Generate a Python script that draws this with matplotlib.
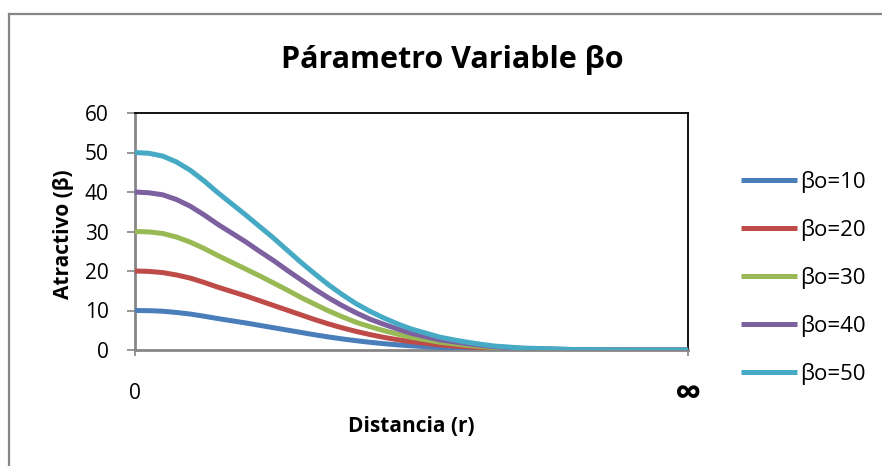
import numpy as np
import matplotlib
matplotlib.use("Agg")
import matplotlib.pyplot as plt
from matplotlib.lines import Line2D

plt.rcParams['font.family'] = ['Open Sans', 'DejaVu Sans']

# ---------------- DATOS ----------------
# distancia relativa: 0 = origen, 100 = infinito
distancia = [0, 2.5, 5, 7.5, 10, 12.5, 15, 17.5, 20, 22.5, 25, 27.5, 30, 32.5, 35, 37.5,
             40, 42.5, 45, 47.5, 50, 52.5, 55, 57.5, 60, 62.5, 65, 67.5, 70, 72.5, 75,
             77.5, 80, 85, 90, 95, 100]

beta_10 = [10, 9.96, 9.82, 9.5, 9.1, 8.55, 7.95, 7.4, 6.85, 6.25, 5.65, 5.05, 4.45, 3.85,
           3.3, 2.8, 2.35, 1.95, 1.6, 1.3, 1.05, 0.85, 0.65, 0.5, 0.4, 0.3, 0.2, 0.15,
           0.1, 0.08, 0.06, 0.04, 0.02, 0.01, 0, 0, 0]
beta_20 = [20, 19.9, 19.6, 19.0, 18.2, 17.1, 15.9, 14.8, 13.7, 12.5, 11.3, 10.1, 8.9, 7.7,
           6.6, 5.6, 4.7, 3.9, 3.2, 2.6, 2.1, 1.7, 1.3, 1.0, 0.8, 0.6, 0.4, 0.3,
           0.2, 0.16, 0.12, 0.08, 0.04, 0.02, 0, 0, 0]
beta_30 = [30, 29.9, 29.5, 28.6, 27.3, 25.7, 23.9, 22.2, 20.5, 18.8, 17.0, 15.2, 13.3, 11.6,
           9.9, 8.4, 7.0, 5.9, 4.9, 4.0, 3.2, 2.6, 2.0, 1.6, 1.2, 0.9, 0.6, 0.45,
           0.3, 0.24, 0.18, 0.12, 0.06, 0.03, 0, 0, 0]
beta_40 = [40, 39.8, 39.3, 38.1, 36.4, 34.2, 31.8, 29.6, 27.4, 25.0, 22.7, 20.2, 17.8, 15.4,
           13.2, 11.2, 9.4, 7.8, 6.5, 5.3, 4.2, 3.4, 2.6, 2.1, 1.6, 1.2, 0.8, 0.6,
           0.4, 0.3, 0.24, 0.16, 0.08, 0.04, 0, 0, 0]
beta_50 = [50, 49.8, 49.1, 47.6, 45.5, 42.8, 39.8, 37.0, 34.2, 31.3, 28.4, 25.3, 22.2, 19.3,
           16.5, 14.0, 11.7, 9.8, 8.1, 6.6, 5.3, 4.3, 3.3, 2.6, 2.0, 1.45, 1.0, 0.75,
           0.5, 0.4, 0.3, 0.2, 0.1, 0.05, 0, 0, 0]

series = [beta_10, beta_20, beta_30, beta_40, beta_50]
etiquetas = ['βo=10', 'βo=20', 'βo=30', 'βo=40', 'βo=50']
colores = ['#4A7EBB', '#BE4B48', '#98B954', '#7D60A0', '#46AAC5']

gris = '#868686'

# ---------------- FIGURA ----------------
fig = plt.figure(figsize=(8.82, 4.66), dpi=100)

# marco exterior del gráfico
fig.add_artist(Line2D([9 / 882, 1.0], [1 - 14 / 466] * 2, transform=fig.transFigure,
                      color=gris, linewidth=1.6))
fig.add_artist(Line2D([9 / 882] * 2, [0.0, 1 - 14 / 466], transform=fig.transFigure,
                      color=gris, linewidth=1.6))

ax = fig.add_axes([135 / 882, 1 - 350 / 466, (688 - 135) / 882, (350 - 113) / 466])

for datos, etq, col in zip(series, etiquetas, colores):
    ax.plot(distancia, datos, color=col, linewidth=3.6, label=etq,
            solid_capstyle='butt', solid_joinstyle='round', zorder=3)

ax.set_xlim(0, 100)
ax.set_ylim(0, 60)
ax.set_yticks(np.arange(0, 61, 10))
ax.set_xticks([0, 100])
ax.set_xticklabels(['0', '∞'])

ax.tick_params(axis='y', direction='out', length=6, width=1.2, color=gris,
               pad=13, labelsize=15)
ax.tick_params(axis='x', direction='out', length=4, width=1.2, color=gris,
               pad=20, labelsize=15)

# el símbolo de infinito es más grande en el original
inf_lbl = ax.get_xticklabels()[1]
inf_lbl.set_fontsize(27)
inf_lbl.set_fontweight('bold')
inf_lbl.set_va('center')
inf_lbl.set_y(-0.05)

for lado in ['left', 'bottom']:
    ax.spines[lado].set_color(gris)
    ax.spines[lado].set_linewidth(2)
for lado in ['top', 'right']:
    ax.spines[lado].set_color('black')
    ax.spines[lado].set_linewidth(1.3)

fig.text(452 / 882, 1 - 60 / 466, 'Párametro Variable βo', ha='center', va='center',
         fontsize=22, fontweight='bold')
fig.text(63 / 882, 1 - 234 / 466, 'Atractivo (β)', ha='center', va='center',
         rotation=90, fontsize=15, fontweight='bold')
fig.text(411 / 882, 1 - 427 / 466, 'Distancia (r)', ha='center', va='center',
         fontsize=15, fontweight='bold')

fig.legend(loc='center left', bbox_to_anchor=(741 / 882, 1 - 278 / 466),
           frameon=False, fontsize=16, handlelength=2.5, handletextpad=0.18,
           labelspacing=1.17, borderpad=0, borderaxespad=0)

fig.savefig('out.png', dpi=100)
